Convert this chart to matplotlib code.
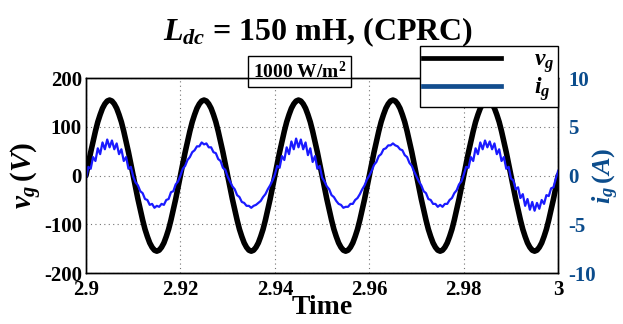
import numpy as np
import matplotlib
matplotlib.use('Agg')
import matplotlib.pyplot as plt
from matplotlib.lines import Line2D

plt.rcParams.update({
    'font.family':       'Liberation Serif',
    'font.weight':       'bold',
    'mathtext.fontset':  'custom',
    'mathtext.rm':       'Liberation Serif:bold',
    'mathtext.it':       'Liberation Serif:italic:bold',
    'mathtext.bf':       'Liberation Serif:bold',
    'axes.unicode_minus': False,
})

# ── Data ──────────────────────────────────────────────────────────────────────
# grid voltage, one sample every 0.5 ms from t = 2.900 to 3.000 s
v_cycle = [0, 24, 48, 70, 91, 110, 125, 138, 147, 153,
           155, 153, 147, 138, 125, 110, 91, 70, 48, 24,
           0, -24, -48, -70, -91, -110, -125, -138, -147, -153,
           -155, -153, -147, -138, -125, -110, -91, -70, -48, -24]
v_g = v_cycle * 5 + [0]

# grid current (A), same time base, switching ripple included
i_g = [
    # cycle 1
    -0.3, 0.9, 0.7, 1.9, 1.5, 2.8, 2.2, 3.4, 2.7, 3.7,
    2.9, 3.6, 2.7, 3.3, 2.2, 2.7, 1.5, 1.9, 0.7, 0.9,
    -0.1, -0.7, -1.0, -1.6, -1.8, -2.4, -2.5, -3.0, -2.9, -3.3,
    -3.1, -3.2, -2.9, -3.0, -2.5, -2.4, -1.7, -1.6, -0.9, -0.6,
    # cycle 2
    0.0, 0.7, 1.0, 1.6, 1.9, 2.4, 2.6, 3.0, 3.0, 3.4,
    3.2, 3.3, 2.9, 2.9, 2.4, 2.3, 1.7, 1.5, 0.8, 0.6,
    -0.1, -0.6, -1.1, -1.4, -2.0, -2.2, -2.7, -2.8, -3.1, -3.1,
    -3.3, -3.1, -3.0, -2.8, -2.6, -2.2, -1.9, -1.4, -1.0, -0.5,
    # cycle 3
    0.1, 1.0, 0.8, 2.0, 1.6, 2.9, 2.2, 3.5, 2.7, 3.8,
    2.9, 3.7, 2.7, 3.4, 2.1, 2.8, 1.4, 2.0, 0.7, 1.0,
    -0.2, -0.6, -1.1, -1.4, -2.0, -2.2, -2.6, -2.9, -3.0, -3.3,
    -3.2, -3.2, -2.9, -2.9, -2.5, -2.3, -1.9, -1.4, -1.0, -0.4,
    # cycle 4
    0.0, 0.5, 1.1, 1.4, 2.0, 2.2, 2.7, 2.8, 3.1, 3.1,
    3.3, 3.1, 3.0, 2.7, 2.6, 2.1, 1.9, 1.3, 1.0, 0.4,
    -0.1, -0.6, -1.0, -1.6, -1.8, -2.4, -2.5, -2.9, -2.9, -3.2,
    -3.0, -3.2, -2.9, -2.9, -2.5, -2.3, -1.8, -1.5, -0.9, -0.6,
    # cycle 5
    0.1, 0.9, 0.8, 1.9, 1.5, 2.8, 2.2, 3.4, 2.7, 3.6,
    2.9, 3.5, 2.7, 3.3, 2.2, 2.7, 1.5, 1.9, 0.7, 0.9,
    -0.3, -0.5, -1.4, -1.2, -2.3, -1.9, -3.1, -2.4, -3.5, -2.7,
    -3.6, -2.8, -3.4, -2.5, -2.9, -2.0, -2.1, -1.3, -1.2, -0.3,
    0.5,
]

t0, dt = 2.9, 0.0005
t = t0 + dt * np.arange(len(v_g))

x_ticks  = [2.9, 2.92, 2.94, 2.96, 2.98, 3.0]
x_labels = ['2.9', '2.92', '2.94', '2.96', '2.98', '3']
yl_ticks = [-200, -100, 0, 100, 200]
yr_ticks = [-10, -5, 0, 5, 10]

BLUE_AX = '#0b4c8c'

# ── Figure ────────────────────────────────────────────────────────────────────
fig = plt.figure(figsize=(6.23, 3.24), dpi=100)
ax = fig.add_axes([0.138, 0.157, 0.758, 0.602])
ax2 = ax.twinx()

ax.plot(t, v_g, color='black', lw=4.0, solid_capstyle='round')
ax2.plot(t, i_g, color='#1a1aff', lw=1.6)

ax.set_xlim(2.9, 3.0)
ax.set_ylim(-200, 200)
ax2.set_ylim(-10, 10)

ax.set_xticks(x_ticks)
ax.set_xticklabels(x_labels)
ax.set_yticks(yl_ticks)
ax2.set_yticks(yr_ticks)
ax.tick_params(axis='x', labelsize=15, length=0, pad=5)
ax.tick_params(axis='y', labelsize=15, length=0, pad=3)
ax2.tick_params(labelsize=15, length=0, pad=7, colors=BLUE_AX)
for lab in ax.get_xticklabels() + ax.get_yticklabels() + ax2.get_yticklabels():
    lab.set_fontweight('bold')

ax.grid(True, ls=(0, (1, 3)), color='0.45', lw=0.8)
for sp in list(ax.spines.values()) + list(ax2.spines.values()):
    sp.set_linewidth(1.0)
    sp.set_color('black')

ax.set_xlabel('Time', fontsize=20, fontweight='bold', labelpad=-4)
ax.set_ylabel('$v_g\\,(V)$', fontsize=21, labelpad=0)
ax2.set_ylabel('$i_g\\,(A)$', fontsize=19, color=BLUE_AX, labelpad=-3)

fig.text(0.51, 0.90, '$L_{dc}$ = 150 mH, (CPRC)', ha='center', va='center',
         fontsize=23, fontweight='bold')

ax.text(0.453, 1.035, '1000 W/m$^2$', transform=ax.transAxes,
        ha='center', va='center', fontsize=14, fontweight='bold',
        bbox=dict(boxstyle='square,pad=0.25', fc='white', ec='black', lw=1.0),
        zorder=10)

handles = [Line2D([], [], color='black', lw=3.4),
           Line2D([], [], color='#124d8e', lw=3.4)]
leg = ax2.legend(handles, ['$v_g$', '$i_g$'], loc='upper right',
                 bbox_to_anchor=(1.0, 1.165), borderaxespad=0, fontsize=17,
                 handlelength=3.3, handletextpad=1.4, borderpad=0.15,
                 labelspacing=0.0, fancybox=False, framealpha=1,
                 edgecolor='black')
leg.get_frame().set_linewidth(1.0)

fig.savefig('out.png', dpi=100)
